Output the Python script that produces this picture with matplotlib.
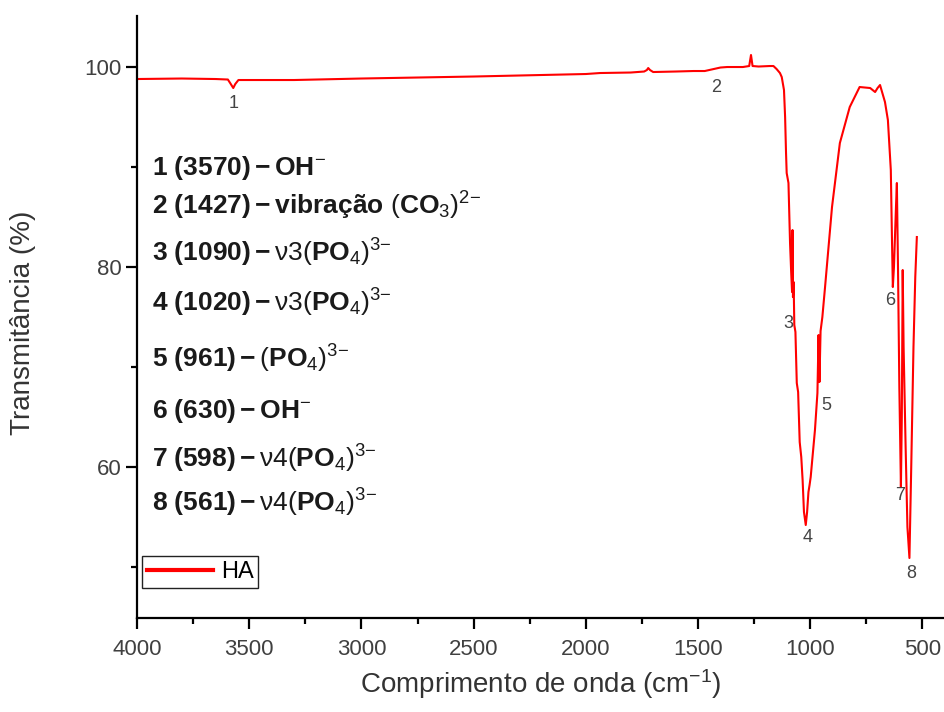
import matplotlib
matplotlib.use("Agg")
import matplotlib.pyplot as plt

plt.rcParams['font.family'] = ['Liberation Sans', 'DejaVu Sans']
plt.rcParams['mathtext.fontset'] = 'custom'
plt.rcParams['mathtext.rm'] = 'Liberation Sans'
plt.rcParams['mathtext.bf'] = 'Liberation Sans:bold'
plt.rcParams['mathtext.it'] = 'Liberation Sans:italic'
plt.rcParams['mathtext.default'] = 'regular'

# FTIR spectrum of HA (wavenumber cm-1, transmittance %)
wavenumber = [4000, 3800, 3650, 3595, 3582, 3571, 3562, 3548, 3300, 3000,
              2500, 2000, 1936, 1800, 1740, 1728, 1722, 1714, 1700, 1600,
              1520, 1470, 1440, 1400, 1370, 1300, 1272, 1264, 1257, 1230,
              1180, 1164, 1150, 1135, 1127, 1117, 1112, 1108, 1105, 1097,
              1090, 1085, 1081, 1079, 1077, 1074, 1071, 1066, 1060, 1054,
              1047, 1040, 1034, 1028, 1020, 1014, 1008, 1003, 998, 979,
              968, 963, 959, 954, 946, 934, 903, 868, 824, 780,
              733, 711, 700, 689, 667, 654, 641, 636, 632, 627,
              618, 614, 609, 603, 596, 592, 588, 584, 575, 567,
              558, 550, 540, 532, 525]
transmittance = [98.8, 98.85, 98.8, 98.75, 98.3, 97.9, 98.3, 98.7, 98.7, 98.85,
                 99.05, 99.3, 99.4, 99.45, 99.55, 99.7, 99.9, 99.7, 99.5, 99.55,
                 99.6, 99.6, 99.75, 99.95, 100.0, 100.0, 100.1, 101.2, 100.1, 100.05,
                 100.1, 100.1, 99.8, 99.4, 99.0, 97.7, 95.0, 91.5, 89.4, 88.4,
                 82.4, 79.5, 77.5, 83.7, 77.0, 78.5, 74.2, 73.5, 68.4, 67.5,
                 62.5, 61.0, 58.7, 55.5, 54.2, 55.5, 57.5, 58.2, 59.0, 63.7,
                 67.4, 73.2, 68.5, 73.6, 75.0, 78.0, 86.0, 92.4, 96.0, 98.0,
                 97.9, 97.5, 97.9, 98.2, 96.5, 94.7, 89.7, 83.0, 78.0, 80.0,
                 86.0, 88.4, 80.0, 68.0, 58.0, 65.0, 79.7, 72.0, 62.0, 54.0,
                 50.9, 60.0, 72.0, 79.0, 83.0]

# band number labels placed next to the bands
band_ids = ["1", "2", "3", "4", "5", "6", "7", "8"]
band_x = [3570, 1420, 1099, 1010, 930, 645, 600, 551]
band_y = [96.4, 98.0, 74.4, 53.0, 66.2, 76.7, 57.2, 49.4]

# assignment list
assignments = [
    r"$\mathbf{1\ (3570)-OH}^{-}$",
    r"$\mathbf{2\ (1427)-vibração}\ (\mathbf{CO}_{3})^{2{-}}$",
    r"$\mathbf{3\ (1090)-}$ν3$(\mathbf{PO}_{4})^{3{-}}$",
    r"$\mathbf{4\ (1020)-}$ν3$(\mathbf{PO}_{4})^{3{-}}$",
    r"$\mathbf{5\ (961)-}(\mathbf{PO}_{4})^{3{-}}$",
    r"$\mathbf{6\ (630)-OH}^{-}$",
    r"$\mathbf{7\ (598)-}$ν4$(\mathbf{PO}_{4})^{3{-}}$",
    r"$\mathbf{8\ (561)-}$ν4$(\mathbf{PO}_{4})^{3{-}}$",
]
assign_y = [89.2, 85.2, 80.5, 75.5, 69.9, 64.9, 59.9, 55.5]

fig = plt.figure(figsize=(9.44, 7.12), dpi=100)
ax = fig.add_axes([0.1451, 0.1320, 0.8549, 0.8455])

ax.plot(wavenumber, transmittance, color="#ff0000", linewidth=1.5, label="HA")

for lab, x, y in zip(band_ids, band_x, band_y):
    ax.text(x, y, lab, ha="center", va="center", fontsize=13, color="#444444")

for s, y in zip(assignments, assign_y):
    ax.text(3932, y, s, ha="left", va="baseline", fontsize=19, color="#1a1a1a")

ax.set_xlim(4000, 404)
ax.set_ylim(44.9, 105.1)
ax.set_xticks([4000, 3500, 3000, 2500, 2000, 1500, 1000, 500])
ax.set_xticks([3750, 3250, 2750, 2250, 1750, 1250, 750], minor=True)
ax.set_yticks([60, 80, 100])
ax.set_yticks([50, 70, 90], minor=True)

for side in ["top", "right"]:
    ax.spines[side].set_visible(False)
for side in ["left", "bottom"]:
    ax.spines[side].set_linewidth(1.6)

ax.tick_params(axis="both", which="major", direction="out", length=8, width=1.6,
               labelsize=16, labelcolor="#404040")
ax.tick_params(axis="both", which="minor", direction="out", length=4.5, width=1.6)
ax.tick_params(axis="x", which="major", pad=7)
ax.tick_params(axis="y", which="major", pad=3)

ax.set_xlabel("Comprimento de onda (cm$^{-1}$)", fontsize=20, color="#333333")
ax.set_ylabel("Transmitância (%)", fontsize=20, color="#333333")
ax.xaxis.set_label_coords(0.5, -0.082)
ax.yaxis.set_label_coords(-0.125, 0.49)

leg = ax.legend(loc="lower left", bbox_to_anchor=(0.006, 0.05), borderaxespad=0,
                fontsize=17, frameon=True, fancybox=False, framealpha=1,
                edgecolor="#222222", handlelength=2.8, handletextpad=0.35,
                borderpad=0.2)
leg.get_frame().set_linewidth(1.0)
for line in leg.get_lines():
    line.set_linewidth(3)

fig.savefig("out.png", dpi=100)
